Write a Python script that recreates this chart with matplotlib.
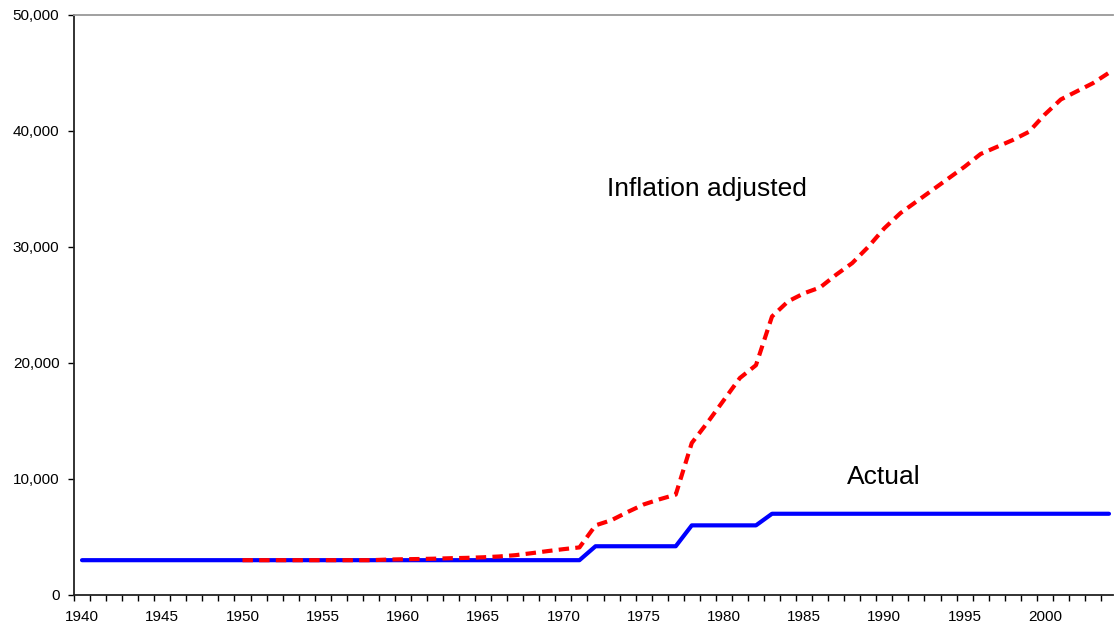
import numpy as np
import matplotlib
matplotlib.use('Agg')
import matplotlib.pyplot as plt
from matplotlib.ticker import FuncFormatter, MultipleLocator

plt.rcParams['font.family'] = ['Liberation Sans', 'DejaVu Sans']

# Actual values, 1940-2004
actual_years = list(range(1940, 2005))
actual = ([3000] * 32          # 1940-1971
          + [4200] * 6         # 1972-1977
          + [6000] * 5         # 1978-1982
          + [7000] * 22)       # 1983-2004

# Inflation adjusted, 1950-2004
adj_years = list(range(1950, 2005))
adjusted = [3000, 3000, 3000, 3000, 3000, 3000, 3000, 3000, 3000, 3050,
            3080, 3100, 3130, 3170, 3200, 3250, 3320, 3430, 3600, 3780,
            3950, 4100, 6000, 6450, 7150, 7800, 8250, 8650, 13100, 14900,
            16800, 18700, 19800, 24000, 25300, 26000, 26500, 27600, 28600, 30000,
            31600, 32900, 33900, 34900, 35900, 36900, 38000, 38600, 39200, 39900,
            41400, 42700, 43400, 44100, 45000]

label_years = list(range(1940, 2001, 5))

fig = plt.figure(figsize=(11.15, 6.29), dpi=100)
ax = fig.add_axes([74 / 1115, 34 / 629, (1113 - 74) / 1115, (595 - 14.7) / 629])

ax.plot(actual_years, actual, color='#0000ff', lw=3, solid_capstyle='round', zorder=2)
ax.plot(adj_years, adjusted, color='#ff0000', lw=3, dashes=(2.5, 1.5),
        dash_capstyle='butt', zorder=3)

ax.text(1972.7, 34950, 'Inflation adjusted', fontsize=19, ha='left', va='center')
ax.text(1987.66, 10150, 'Actual', fontsize=19, ha='left', va='center')

ax.set_xlim(1939.5, 2004.25)
ax.set_ylim(0, 50000)

ax.set_xticks(label_years)
ax.xaxis.set_minor_locator(MultipleLocator(1, offset=0.5))
ax.tick_params(axis='x', which='major', length=0, pad=11, labelsize=11)
ax.tick_params(axis='x', which='minor', length=4.5, width=1, direction='out')

ax.yaxis.set_major_locator(MultipleLocator(10000))
ax.yaxis.set_major_formatter(FuncFormatter(lambda v, p: f'{int(v):,}'))
ax.tick_params(axis='y', length=4.5, width=1, direction='out', pad=6, labelsize=11)

for s in ['left', 'bottom']:
    ax.spines[s].set_color('#222222')
    ax.spines[s].set_linewidth(1.3)
ax.spines['top'].set_color('#999999')
ax.spines['top'].set_linewidth(1.3)
ax.spines['right'].set_visible(False)

fig.savefig('out.png', dpi=100)
